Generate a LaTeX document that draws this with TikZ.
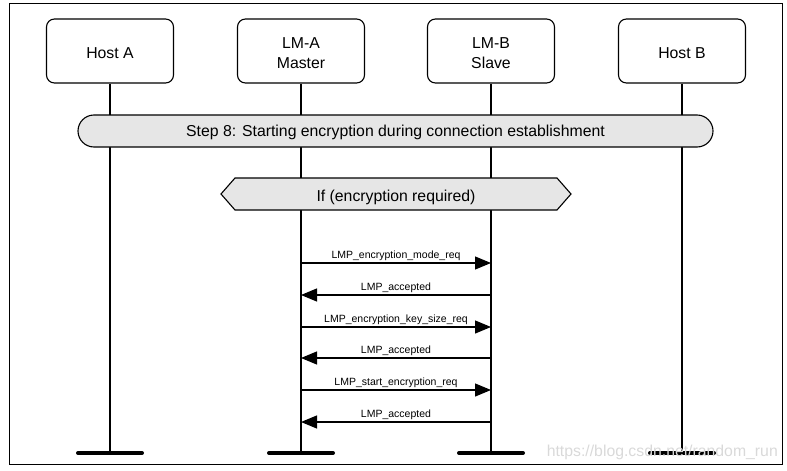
\documentclass[tikz,border=0pt]{standalone}
\usepackage{fontspec}
\setmainfont{Liberation Sans}
\usetikzlibrary{arrows.meta,calc}
\definecolor{barfill}{HTML}{E6E6E6}
\definecolor{wmark}{HTML}{D9D9D9}
\tikzset{
  big/.style={font=\fontsize{15.8}{20}\selectfont},
  small/.style={font=\fontsize{10.5}{12}\selectfont},
  entity/.style={draw, line width=1.1pt, rounded corners=8pt, minimum width=127pt, minimum height=64pt, inner sep=0pt},
  etext/.style={align=center, big, inner sep=0pt},
  life/.style={line width=1.4pt},
  stepbar/.style={draw, line width=1.1pt, fill=barfill, rounded corners=16pt, minimum width=635pt, minimum height=32pt, inner sep=0pt},
  msg/.style={line width=1.2pt, -{Triangle[length=16pt,width=13pt]}},
  endbar/.style={line width=4pt, line cap=round},
  mlabel/.style={small, above, inner sep=1.5pt}
}
\begin{document}
\begin{tikzpicture}[x=1pt,y=-1pt]
\useasboundingbox (0,0) rectangle (787,471);
\draw[line width=1pt] (9,3) rectangle (782,464);
% entities
\node[entity] (ha) at (110,51) {};
\node[entity] (la) at (301,51) {};
\node[entity] (lb) at (491,51) {};
\node[entity] (hb) at (682,51) {};
\node[etext] (hat) at ($(ha.center)+(0,2.5)$) {Host A};
\node[etext] (lat) at ($(la.center)+(0,2.5)$) {LM-A\\Master};
\node[etext] (lbt) at ($(lb.center)+(0,2.5)$) {LM-B\\Slave};
\node[etext] (hbt) at ($(hb.center)+(0,2.5)$) {Host B};
% lifeline ends
\coordinate (hae) at (110,453);
\coordinate (lae) at (301,453);
\coordinate (lbe) at (491,453);
\coordinate (hbe) at (682,453);
\foreach \s/\e in {ha/hae,la/lae,lb/lbe,hb/hbe}{
  \draw[life] (\s.south) -- (\e);
  \draw[endbar] ($(\e)+(-32,0)$) -- ($(\e)+(32,0)$);
}
% step bar
\node[stepbar] (step) at (395.5,131) {};
\node[big, inner sep=0pt] (stept) at ($(step.center)+(0,1)$) {Step 8: Starting encryption during connection establishment};
% condition hexagon
\draw[line width=1.1pt, fill=barfill] (221,194) -- (235,178) -- (557,178) -- (571,194) -- (557,210) -- (235,210) -- cycle;
\node[big, inner sep=0pt] (cond) at (396,197.5) {If (encryption required)};
% messages
\foreach \i/\y in {1/263,2/295,3/327,4/358,5/390,6/422}{
  \coordinate (a\i) at (301,\y);
  \coordinate (b\i) at (491,\y);
}
\draw[msg] (a1) -- node[mlabel] (m1) {LMP\_encryption\_mode\_req} (b1);
\draw[msg] (b2) -- node[mlabel] (m2) {LMP\_accepted} (a2);
\draw[msg] (a3) -- node[mlabel] (m3) {LMP\_encryption\_key\_size\_req} (b3);
\draw[msg] (b4) -- node[mlabel] (m4) {LMP\_accepted} (a4);
\draw[msg] (a5) -- node[mlabel] (m5) {LMP\_start\_encryption\_req} (b5);
\draw[msg] (b6) -- node[mlabel] (m6) {LMP\_accepted} (a6);
% watermark
\node[big, text=wmark, anchor=east, inner sep=0pt] (wm) at (778,452) {https://blog.csdn.net/random\_run};
\end{tikzpicture}
\end{document}
